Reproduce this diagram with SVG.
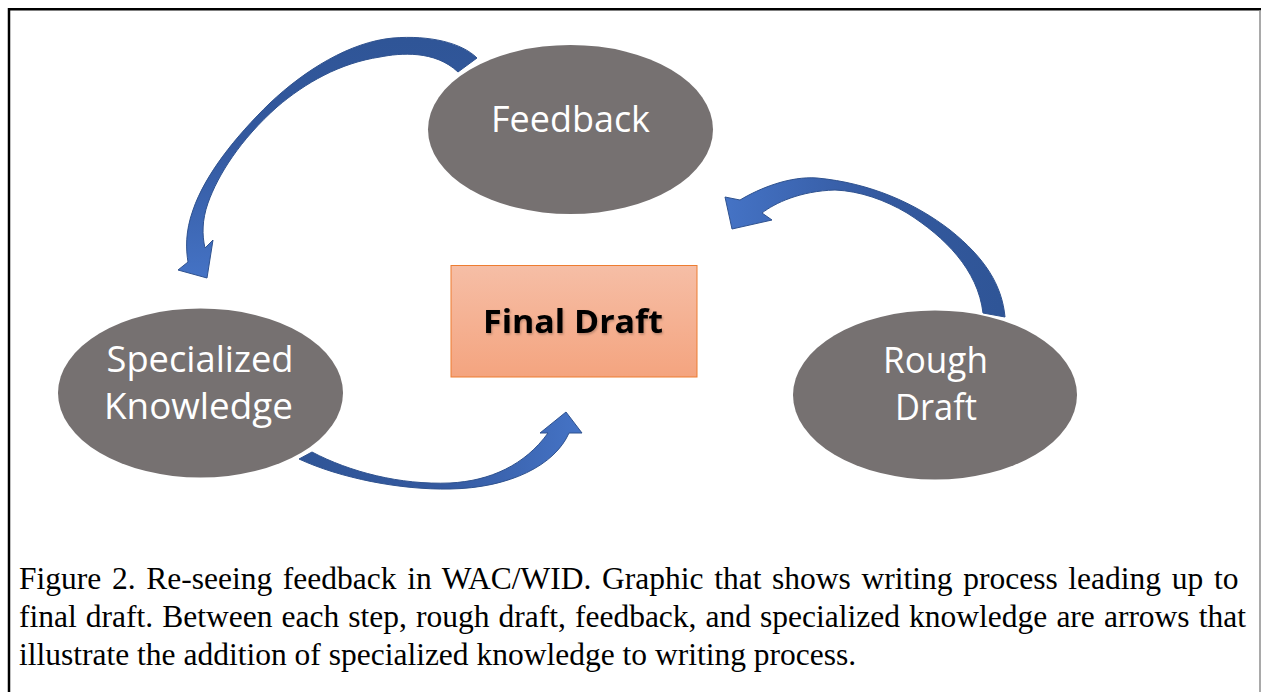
<svg xmlns="http://www.w3.org/2000/svg" width="1261" height="692" viewBox="0 0 1261 692">
  <style>
    .node-ellipse { fill: #767171; }
    .node-label { font-family: "Open Sans", "Noto Sans", sans-serif; font-size: 36px; fill: #FFFFFF; text-anchor: middle; }
    .final-label { font-family: "Open Sans", "Noto Sans", sans-serif; font-size: 33px; font-weight: bold; fill: #000000; text-anchor: middle; }
    .caption { font-family: "Liberation Serif", "Times New Roman", serif; font-size: 31.5px; fill: #000000; }
    .arrow { stroke: #2F528F; stroke-width: 1; stroke-linejoin: miter; }
  </style>
  <defs>
    <linearGradient id="gradBox" x1="0" y1="0" x2="0" y2="1">
      <stop offset="0" stop-color="#F6BEA6"/>
      <stop offset="1" stop-color="#F4A47F"/>
    </linearGradient>
    <linearGradient id="gradA1" gradientUnits="userSpaceOnUse" x1="0" y1="40" x2="0" y2="275">
      <stop offset="0" stop-color="#2F5597"/>
      <stop offset="0.45" stop-color="#34599F"/>
      <stop offset="1" stop-color="#4472C4"/>
    </linearGradient>
    <linearGradient id="gradA2" gradientUnits="userSpaceOnUse" x1="1000" y1="0" x2="730" y2="0">
      <stop offset="0" stop-color="#2F5597"/>
      <stop offset="0.45" stop-color="#34599F"/>
      <stop offset="1" stop-color="#4472C4"/>
    </linearGradient>
    <linearGradient id="gradA3" gradientUnits="userSpaceOnUse" x1="300" y1="0" x2="575" y2="0">
      <stop offset="0" stop-color="#2F5597"/>
      <stop offset="0.5" stop-color="#34599F"/>
      <stop offset="1" stop-color="#4472C4"/>
    </linearGradient>
    <filter id="txtShadow" x="-10%" y="-30%" width="120%" height="160%">
      <feDropShadow dx="1" dy="1.5" stdDeviation="1.2" flood-color="#000000" flood-opacity="0.25"/>
    </filter>
  </defs>

  <rect x="0" y="0" width="1261" height="692" fill="#FFFFFF"/>

  <!-- frame -->
  <g id="frame">
    <line x1="9" y1="8" x2="9" y2="692" stroke="#000000" stroke-width="2.5"/>
    <line x1="8" y1="9.2" x2="1261" y2="9.2" stroke="#000000" stroke-width="2.5"/>
    <line x1="1260" y1="10" x2="1260" y2="692" stroke="#8C8C8C" stroke-width="1.5"/>
  </g>

  <!-- connectors -->
  <g id="connectors">
    <path id="arrow-feedback-to-specialized" class="arrow" fill="url(#gradA1)"
      d="M 477,58 C 462,43 430,35 393,38 C 350,42 305,70 270,103 C 235,137 205,175 193,210 C 185,232 186,250 188,262
         L 178,270 L 207,278 L 213,240 L 205,248
         C 202,235 202,220 208,203 C 218,175 240,140 277,107 C 305,83 340,63 380,57 C 400,53 435,50 458,72 Z"/>
    <path id="arrow-rough-to-feedback" class="arrow" fill="url(#gradA2)"
      d="M 1005,317 C 1002,285 985,258 950,230 C 915,203 870,183 817,178 C 790,176 760,188 740,200
         L 725,197 L 732,229 L 772,220 L 762,213
         C 775,203 800,191 835,190 C 860,191 885,200 907,213 C 945,237 978,270 983,313 Z"/>
    <path id="arrow-specialized-to-final" class="arrow" fill="url(#gradA3)"
      d="M 312,452 C 350,472 400,485 450,483 C 490,481 525,465 548,433
         L 540,433 L 566,412 L 582,433 L 569,433
         C 555,465 510,488 450,489 C 400,490 340,478 299,459 Z"/>
  </g>

  <!-- nodes -->
  <g id="node-feedback">
    <ellipse class="node-ellipse" cx="570.5" cy="129.5" rx="142.5" ry="84.5"/>
    <text class="node-label" x="570.5" y="132" textLength="159" lengthAdjust="spacingAndGlyphs">Feedback</text>
  </g>

  <g id="node-specialized-knowledge">
    <ellipse class="node-ellipse" cx="200.5" cy="393" rx="142.5" ry="84.5"/>
    <text class="node-label" x="200" y="372" textLength="187" lengthAdjust="spacingAndGlyphs">Specialized</text>
    <text class="node-label" x="198.5" y="419" textLength="189" lengthAdjust="spacingAndGlyphs">Knowledge</text>
  </g>

  <g id="node-rough-draft">
    <ellipse class="node-ellipse" cx="935" cy="395" rx="142" ry="84.5"/>
    <text class="node-label" x="935.5" y="373" textLength="105" lengthAdjust="spacingAndGlyphs">Rough</text>
    <text class="node-label" x="936" y="420" textLength="82" lengthAdjust="spacingAndGlyphs">Draft</text>
  </g>

  <g id="node-final-draft">
    <rect x="451" y="265.5" width="246" height="111.5" fill="url(#gradBox)" stroke="#ED7D31" stroke-width="1"/>
    <text class="final-label" x="573" y="333" textLength="180" lengthAdjust="spacingAndGlyphs" filter="url(#txtShadow)">Final Draft</text>
  </g>

  <!-- caption -->
  <g id="caption">
    <text class="caption" x="19" y="589" word-spacing="2.8">Figure 2. Re-seeing feedback in WAC/WID. Graphic that shows writing process leading up to</text>
    <text class="caption" x="19" y="627" word-spacing="1.2">final draft. Between each step, rough draft, feedback, and specialized knowledge are arrows that</text>
    <text class="caption" x="19" y="665">illustrate the addition of specialized knowledge to writing process.</text>
  </g>
</svg>
